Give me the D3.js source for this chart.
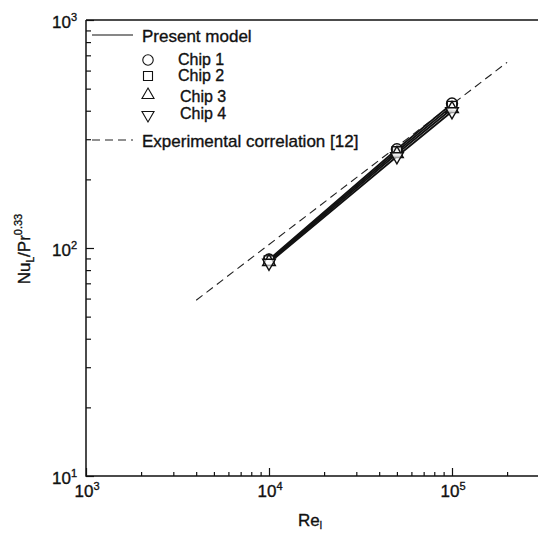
<!DOCTYPE html>
<html>
<head>
<meta charset="utf-8">
<script src="https://cdn.jsdelivr.net/npm/d3@7"></script>
<style>
body{margin:0;background:#fff;}
text{font-family:"Liberation Sans",Arial,sans-serif;fill:#111;stroke:#111;stroke-width:0.35px;}
</style>
</head>
<body>
<svg id="basicSVG" width="538" height="533"></svg>
<script>
// data
var reValues = [10000, 50000, 100000];
var chip1 = [89, 271, 430];
var chip2 = [88, 265, 419];
var chip3 = [87, 259, 408];
var chip4 = [86, 252, 397];
var chipNames = ["Chip 1","Chip 2","Chip 3","Chip 4"];
var expRe = [4000, 200000];
var expNu = [59, 652];
var xMajor = [1e3, 1e4, 1e5];
var yMajor = [1e1, 1e2, 1e3];

var svg = d3.select("#basicSVG");
var x = d3.scaleLog().domain([1e3, 1e6]).range([86, 86 + 3*183]);
var y = d3.scaleLog().domain([10, 1000]).range([476, 20]);

//小刻度
function minorTicks(lo, hi)
{
	var t = [];
	for(var p = lo; p < hi; p *= 10)
		for(var k = 2; k <= 9; k++) t.push(p*k);
	return t;
}

var g = svg.append("g");

// x軸 刻度朝內
g.append("g").attr("transform","translate(0,476)")
	.call(d3.axisBottom(x).tickValues(minorTicks(1e3,1e6)).tickSize(-4).tickFormat(""))
	.call(function(a){a.select(".domain").remove();});
g.append("g").attr("transform","translate(0,476)")
	.call(d3.axisBottom(x).tickValues([1e3,1e4,1e5,1e6]).tickSize(-8).tickFormat(""))
	.call(function(a){a.select(".domain").remove();});
// y軸
g.append("g").attr("transform","translate(86,0)")
	.call(d3.axisLeft(y).tickValues(minorTicks(10,1000)).tickSize(-5).tickFormat(""))
	.call(function(a){a.select(".domain").remove();});
g.append("g").attr("transform","translate(86,0)")
	.call(d3.axisLeft(y).tickValues(yMajor).tickSize(-8).tickFormat(""))
	.call(function(a){a.select(".domain").remove();});
g.selectAll(".tick line").attr("stroke","#111").attr("stroke-width",1.2);

// 外框
g.append("path").attr("d","M 86,20 L 86,476 L 540,476").attr("fill","none").attr("stroke","#111").attr("stroke-width",1.5);
g.append("path").attr("d","M 86,20 L 540,20").attr("fill","none").attr("stroke","#111").attr("stroke-width",1.5);

// 刻度文字
function powLabel(px, py, exp, anchorRight)
{
	var t = g.append("text").attr("x",px).attr("y",py).attr("font-size",17)
		.attr("text-anchor", anchorRight ? "end" : "middle");
	t.append("tspan").text("10");
	t.append("tspan").attr("font-size",11).attr("dy",-7).text(exp);
}
xMajor.forEach(function(v){ powLabel(x(v)+1, 497, Math.round(Math.log10(v)), false); });
yMajor.forEach(function(v){ powLabel(77, y(v)+8, Math.round(Math.log10(v)), true); });

// 軸標題
var xt = g.append("text").attr("x",298).attr("y",526).attr("font-size",17);
xt.append("tspan").text("Re");
xt.append("tspan").attr("font-size",10).attr("dy",3).text("l");

var yt = g.append("text").attr("transform","translate(30,249) rotate(-90)").attr("text-anchor","middle").attr("font-size",17);
yt.append("tspan").text("Nu");
yt.append("tspan").attr("font-size",10).attr("dy",4).text("L");
yt.append("tspan").attr("dy",-4).text("/Pr");
yt.append("tspan").attr("font-size",11).attr("dy",-8).text("0.33");

// 實驗關聯式
var line = d3.line().x(function(d){return x(d[0]);}).y(function(d){return y(d[1]);});
g.append("path").datum(d3.zip(expRe, expNu)).attr("d",line)
	.attr("fill","none").attr("stroke","#222").attr("stroke-width",1.1).attr("stroke-dasharray","8,5");

// 本模型
var chips = [chip1, chip2, chip3, chip4];
chips.forEach(function(c){
	g.append("path").datum(d3.zip(reValues, c)).attr("d",line)
		.attr("fill","none").attr("stroke","#111").attr("stroke-width",1.8);
});

var symbols = [
	{type:d3.symbolCircle, size:95, rot:0},
	{type:d3.symbolSquare, size:90, rot:0},
	{type:d3.symbolTriangle, size:70, rot:0},
	{type:d3.symbolTriangle, size:70, rot:180}
];
chips.forEach(function(c, i){
	var s = symbols[i];
	reValues.forEach(function(re, j){
		g.append("path").attr("d", d3.symbol().type(s.type).size(s.size)())
			.attr("transform","translate("+x(re)+","+y(c[j])+") rotate("+s.rot+")")
			.attr("fill","#fff").attr("fill-opacity",0.6).attr("stroke","#111").attr("stroke-width",1.4);
	});
});

// 圖例
g.append("path").attr("d","M 92,35 L 133,35").attr("stroke","#111").attr("stroke-width",1.2);
g.append("text").attr("x",142).attr("y",42).attr("font-size",17).text("Present model");
var legY = [60, 76, 95, 115];
var legTextY = [65, 81, 102, 119];
var legTextX = [178, 178, 180, 180];
chipNames.forEach(function(n, i){
	var s = symbols[i];
	g.append("path").attr("d", d3.symbol().type(s.type).size(s.size*0.9)())
		.attr("transform","translate(148,"+legY[i]+") rotate("+s.rot+")")
		.attr("fill","none").attr("stroke","#111").attr("stroke-width",1.1);
	g.append("text").attr("x",legTextX[i]).attr("y",legTextY[i]).attr("font-size",16).text(n);
});
g.append("path").attr("d","M 92,140 L 133,140").attr("stroke","#222").attr("stroke-width",1.1).attr("stroke-dasharray","8,5");
g.append("text").attr("x",142).attr("y",147).attr("font-size",17).text("Experimental correlation [12]");
</script>
</body>
</html>
